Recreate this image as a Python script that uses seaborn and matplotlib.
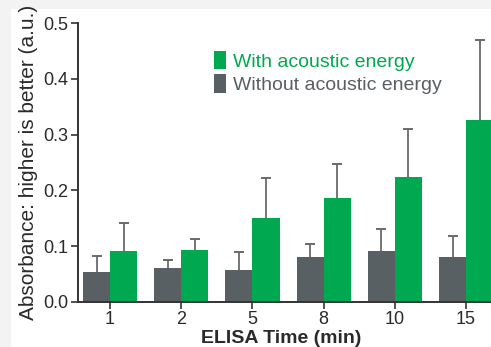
import numpy as np
import pandas as pd
import matplotlib
matplotlib.use("Agg")
import matplotlib.pyplot as plt
from matplotlib.patches import Rectangle
import seaborn as sns

# Data
times = ["1", "2", "5", "8", "10", "15"]
without_vals = [0.053, 0.060, 0.057, 0.080, 0.091, 0.080]
without_err = [0.029, 0.014, 0.032, 0.024, 0.040, 0.038]
with_vals = [0.091, 0.093, 0.150, 0.186, 0.224, 0.326]
with_err = [0.050, 0.020, 0.072, 0.062, 0.086, 0.144]
labels = ["Without acoustic energy", "With acoustic energy"]

green = "#00a94f"
grey = "#596063"
err_col = "#6a6a6a"

sns.set_style("ticks")
plt.rcParams["font.family"] = ["Liberation Sans", "DejaVu Sans"]

df = pd.DataFrame({
    "time": times * 2,
    "condition": [labels[0]] * len(times) + [labels[1]] * len(times),
    "absorbance": without_vals + with_vals,
})
errs = {labels[0]: without_err, labels[1]: with_err}

fig = plt.figure(figsize=(4.91, 3.47), dpi=100, facecolor="#f3f3f3")
# white panel, grey strip on top and left
fig.patches.append(Rectangle((11 / 491, 0), 1, 1 - 9 / 347, transform=fig.transFigure,
                             facecolor="white", edgecolor="none", zorder=-10))
ax = fig.add_axes([78 / 491, 45.3 / 347, 413 / 491, 278.4 / 347])
ax.set_facecolor("white")

sns.barplot(data=df, x="time", y="absorbance", hue="condition", order=times,
            hue_order=labels, palette=[grey, green], saturation=1, width=0.76,
            errorbar=None, linewidth=0, ax=ax)

# upper-only error bars: stem from the bar top, cap only at the top
for cont, lab in zip(ax.containers, labels):
    xs = np.array([b.get_x() + b.get_width() / 2 for b in cont])
    hs = np.array([b.get_height() for b in cont])
    tops = hs + np.array(errs[lab])
    ax.vlines(xs, hs, tops, color=err_col, linewidth=1.3, zorder=3)
    ax.plot(xs, tops, linestyle="none", marker="_", markersize=7, markeredgewidth=1.4,
            color=err_col, zorder=3, clip_on=False)

ax.set_ylim(0, 0.5)
ax.set_xlim(-0.45, 5.35)
ax.set_yticks([0.0, 0.1, 0.2, 0.3, 0.4, 0.5])
ax.set_yticklabels(["0.0", "0.1", "0.2", "0.3", "0.4", "0.5"])

for s in ["top", "right"]:
    ax.spines[s].set_visible(False)
for s in ["left", "bottom"]:
    ax.spines[s].set_color("#333333")
    ax.spines[s].set_linewidth(1.4)
ax.tick_params(axis="both", labelsize=13, colors="#333333", length=5, width=1.2,
               labelcolor="#2a2a2a", pad=2)
ax.tick_params(axis="x", pad=1.5)

ax.set_xlabel("ELISA Time (min)", fontsize=14, fontweight="bold", color="#2a2a2a")
ax.xaxis.set_label_coords(0.493, -0.1)
ax.set_ylabel("Absorbance: higher is better (a.u.)", fontsize=15, color="#2a2a2a", labelpad=4)

handles, _ = ax.get_legend_handles_labels()
leg = ax.legend(handles[::-1], labels[::-1], loc="upper left", bbox_to_anchor=(0.329, 0.902),
                frameon=False, fontsize=14, handlelength=0.62, handleheight=1.1,
                handletextpad=0.35, labelspacing=0.2, borderpad=0, borderaxespad=0)
for txt, col in zip(leg.get_texts(), [green, grey]):
    txt.set_color(col)

fig.savefig("out.png", dpi=100, facecolor=fig.get_facecolor())
